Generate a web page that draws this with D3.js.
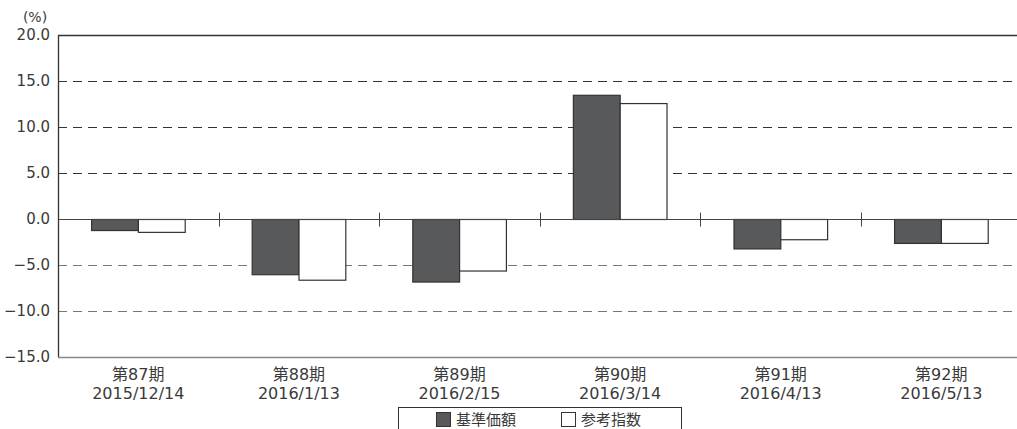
<!DOCTYPE html>
<html lang="ja">
<head>
<meta charset="UTF-8">
<title>基準価額と参考指数の騰落率</title>
<script src="https://d3js.org/d3.v7.min.js"></script>
<style>
    body { margin: 0; background: #fff; }
    svg { font-family: "DejaVu Sans", "Noto Sans CJK JP", sans-serif; }
    text { fill: #3a3a3a; }
</style>
</head>
<body>
<div id="chart"></div>
<script>
// periods and dates
const periods = ["第87期", "第88期", "第89期", "第90期", "第91期", "第92期"];
const dates = ["2015/12/14", "2016/1/13", "2016/2/15", "2016/3/14", "2016/4/13", "2016/5/13"];
// series values (%)
const seriesNames = ["基準価額", "参考指数"];
const navValues = [-1.2, -6.0, -6.8, 13.5, -3.2, -2.6];
const refValues = [-1.4, -6.6, -5.6, 12.6, -2.2, -2.6];
const yTicks = [20, 15, 10, 5, 0, -5, -10, -15];

const W = 1017, H = 429;
const margin = { top: 35, left: 58, bottom: 72 };
const plotH = H - margin.top - margin.bottom;

const svg = d3.select("#chart").append("svg")
    .attr("width", W)
    .attr("height", H);

const x = d3.scaleBand()
    .domain(periods)
    .range([margin.left, margin.left + 6 * 160.6]);

const bw = x.bandwidth();
const x1 = d3.scaleBand()
    .domain(seriesNames)
    .range([bw * 0.206, bw * 0.789]);

const y = d3.scaleLinear()
    .domain([-15, 20])
    .range([margin.top + plotH, margin.top]);

// grid lines
svg.append("g")
    .selectAll("line")
    .data(yTicks.filter(d => d !== 20 && d !== 0 && d !== -15))
    .join("line")
    .attr("x1", margin.left)
    .attr("x2", W)
    .attr("y1", d => Math.round(y(d)) + 0.5)
    .attr("y2", d => Math.round(y(d)) + 0.5)
    .attr("stroke", d => d > 0 ? "#333" : "#777")
    .attr("stroke-width", 1)
    .attr("stroke-dasharray", "9,6");

// y tick labels
svg.append("g")
    .selectAll("text")
    .data(yTicks)
    .join("text")
    .attr("x", 50)
    .attr("y", d => y(d))
    .attr("dy", "0.36em")
    .attr("text-anchor", "end")
    .attr("font-size", 15)
    .text(d => d3.format(".1f")(d));

svg.append("text")
    .attr("x", 35)
    .attr("y", 22)
    .attr("text-anchor", "middle")
    .attr("font-size", 14)
    .text("(%)");

// bars
const rows = periods.map((p, i) => ({ p, vals: [navValues[i], refValues[i]] }));
const groups = svg.append("g")
    .selectAll("g")
    .data(rows)
    .join("g")
    .attr("transform", d => `translate(${x(d.p)},0)`);

groups.selectAll("rect")
    .data(d => d.vals.map((v, j) => ({ name: seriesNames[j], v })))
    .join("rect")
    .attr("x", d => x1(d.name) + 0.5)
    .attr("width", x1.bandwidth())
    .attr("y", d => y(Math.max(0, d.v)) + 0.5)
    .attr("height", d => Math.abs(y(d.v) - y(0)))
    .attr("fill", d => d.name === seriesNames[0] ? "#58595b" : "#fff")
    .attr("stroke", "#333")
    .attr("stroke-width", 1.2);

// frame: top, left, bottom, zero line
const y0 = Math.round(y(0)) + 0.5;
svg.append("line")
    .attr("x1", margin.left).attr("x2", W)
    .attr("y1", y0).attr("y2", y0)
    .attr("stroke", "#444");
svg.append("line")
    .attr("x1", margin.left).attr("x2", W)
    .attr("y1", margin.top + 0.5).attr("y2", margin.top + 0.5)
    .attr("stroke", "#333").attr("stroke-width", 1.3);
svg.append("line")
    .attr("x1", margin.left + 0.5).attr("x2", margin.left + 0.5)
    .attr("y1", margin.top).attr("y2", margin.top + plotH)
    .attr("stroke", "#333").attr("stroke-width", 1.3);
svg.append("line")
    .attr("x1", margin.left).attr("x2", W)
    .attr("y1", margin.top + plotH + 0.5).attr("y2", margin.top + plotH + 0.5)
    .attr("stroke", "#888").attr("stroke-width", 1.5);

// category separator ticks on zero line
svg.append("g")
    .selectAll("line")
    .data(periods.slice(1))
    .join("line")
    .attr("x1", d => Math.round(x(d)) + 0.5)
    .attr("x2", d => Math.round(x(d)) + 0.5)
    .attr("y1", y0 - 7)
    .attr("y2", y0 + 7)
    .attr("stroke", "#444");

// category labels (period, then date)
svg.append("g")
    .selectAll("text")
    .data(periods)
    .join("text")
    .attr("x", d => x(d) + bw / 2)
    .attr("y", 380)
    .attr("text-anchor", "middle")
    .attr("font-size", 16)
    .text(d => d);
svg.append("g")
    .selectAll("text")
    .data(dates)
    .join("text")
    .attr("x", (d, i) => x(periods[i]) + bw / 2)
    .attr("y", 399)
    .attr("text-anchor", "middle")
    .attr("font-size", 16)
    .text(d => d);

// legend
const legend = svg.append("g");
legend.append("rect")
    .attr("x", 398.5).attr("y", 407.5)
    .attr("width", 283).attr("height", 40)
    .attr("fill", "none")
    .attr("stroke", "#333");
const items = legend.selectAll("g")
    .data(seriesNames)
    .join("g")
    .attr("transform", (d, i) => `translate(${i === 0 ? 436 : 561},0)`);
items.append("rect")
    .attr("x", 0.5).attr("y", 412.5)
    .attr("width", 14).attr("height", 14)
    .attr("fill", (d, i) => i === 0 ? "#58595b" : "#fff")
    .attr("stroke", "#333");
items.append("text")
    .attr("x", 20)
    .attr("y", 425)
    .attr("font-size", 15)
    .text(d => d);
</script>
</body>
</html>
